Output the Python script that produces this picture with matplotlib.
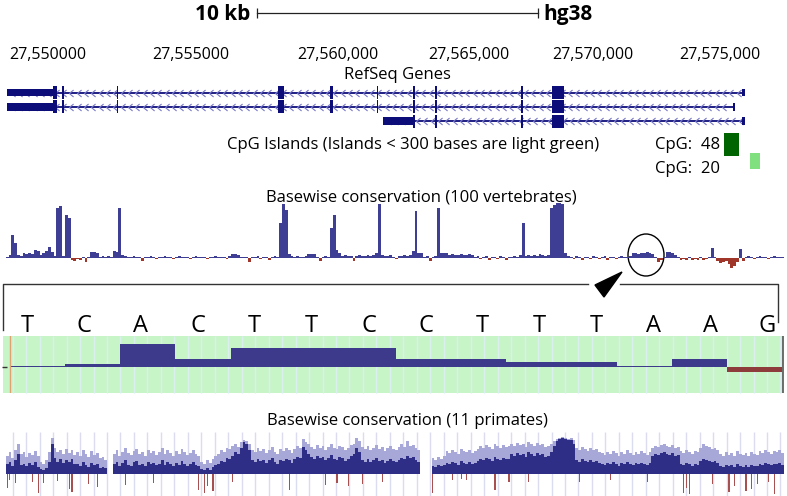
import numpy as np
import matplotlib.pyplot as plt
from matplotlib.patches import Rectangle, Ellipse, Polygon
from matplotlib.path import Path

plt.rcParams['font.family'] = ['Open Sans', 'DejaVu Sans']

W, H = 787, 496
# genomic window shown across the figure width, in kb from 27,550,000
KB_LEFT, KB_RIGHT = -1.702, 26.206

# ---------------------------------------------------------------- data
coord_labels = ["27,550000", "27,555000", "27,560,000", "27,565,000", "27,570,000", "27,575,000"]
coord_pos = [0.0, 5.07, 10.28, 14.93, 19.33, 23.83]  # kb

# RefSeq transcripts (kb)
tx_span = [(-1.45, 24.72), (-1.45, 24.33), (11.88, 24.72)]
tx_utr = [[(-1.45, 0.18), (24.61, 24.72)],
          [(-1.45, 0.18), (24.30, 24.35)],
          [(11.88, 12.95), (24.61, 24.72)]]
tx_cds = [[(0.18, 0.32), (0.50, 0.57), (2.45, 2.50), (8.16, 8.37), (10.00, 10.11), (11.65, 11.70),
           (12.95, 13.02), (13.74, 13.81), (16.79, 16.84), (17.87, 18.30)],
          [(0.18, 0.32), (0.50, 0.57), (2.45, 2.50), (8.16, 8.37), (10.00, 10.11), (11.65, 11.70),
           (12.95, 13.02), (13.74, 13.81), (16.79, 16.84), (17.87, 18.30)],
          [(12.95, 13.02), (13.74, 13.81), (16.79, 16.84), (17.87, 18.30)]]

# CpG islands (kb)
cpg_start = [23.97, 24.89]
cpg_end = [24.50, 25.25]
cpg_count = [48, 20]
cpg_color = ['#006400', '#80E080']

# phyloP 100 vertebrates, 0.1 kb bins starting at -1.5 kb
bin0, bin_w = -1.5, 0.1
vert_score = [
    1, 3, 23, 15, 3, 2, 5, 4, 5, 4, 8, 7, 3, 5, 7, 11, 6, 2, 50, 52,
    2, 43, 40, -2, -3, -1, -2, 1, -4, 1, 6, 6, 5, 1, 2, 1, 2, 1, 7, 6,
    50, 3, 2, 1, 1, 2, 1, 1, -3, 1, 1, 2, 1, -1, 1, 1, 2, 1, 1, -1,
    1, 2, 1, 1, 1, -1, 1, 2, 1, 1, 1, -1, 1, 1, 2, 1, 1, 1, -1, 2,
    4, 4, 3, 1, 1, 1, -4, 1, 1, 2, -1, 1, 1, -2, 1, 2, 1, 35, 54, 48,
    4, 2, 1, 2, 1, 1, 2, 4, 4, 4, 1, -3, 1, 2, 1, 30, 43, 8, 5, 2,
    3, 2, 2, -3, 2, 3, 2, 2, 3, 2, 3, 5, 54, 3, 2, 2, 3, 1, -1, 2,
    2, 3, 2, 3, 7, 47, 5, 5, 1, 2, -3, 1, 2, 50, 5, 5, 5, 3, 4, 3,
    3, 4, 3, 3, 4, 3, 1, 2, -1, 1, 2, -2, 1, 1, -1, 2, 1, -2, 1, 1,
    2, 1, 3, 35, 2, 3, 2, 3, 2, 4, 3, 2, 3, 50, 53, 55, 55, 54, 5, 2,
    1, -1, 2, 1, -2, 1, 1, -1, 2, 1, -1, 1, 2, -2, 1, 1, -1, 1, 2, 1,
    1, 2, 5, 5, 4, 5, 5, 6, 5, 4, 1, -4, -2, 1, 6, 6, 5, 3, 1, -2,
    -1, -2, 1, -2, -1, -2, 1, -2, -1, 1, 10, 1, -3, -5, -4, -3, -6, -10, -8, -4,
    9, -3, 1, 2, 1, -1, 1, 2, 1, 1, -1, 1, 2, 1, 1, 1]

# zoomed 14 bp window
seq = "TCACTTCCTTTAAG"
base_score = [0.5, 1.2, 9.2, 3.2, 7.6, 7.6, 7.6, 3.2, 3.2, 2.1, 2.1, 0.6, 3.2, -2.0]

# phyloP 11 primates, same bins: max (light) and mean (dark)
prim_max = [
    18, 22, 16, 24, 30, 20, 22, 17, 21, 19, 23, 18, 12, 10, 14, 22, 36, 26, 22, 24,
    20, 25, 21, 24, 19, 22, 18, 24, 20, 17, 23, 19, 21, 16, 17, 14, 0, 0,
    20, 24, 18, 22, 26, 21, 19, 23, 25, 20, 22, 18, 24, 21, 23, 19, 22, 26, 20, 24,
    21, 18, 23, 20, 25, 22, 19, 21, 24, 20, 18,
    12, 10, 14, 11, 15, 18,
    20, 24, 22, 26, 25, 28, 30, 27, 32, 34, 33, 30,
    24, 22, 26, 23, 25, 21, 24, 27, 22, 20, 25, 23, 26, 24, 21, 25, 28, 26,
    35, 32, 30,
    27, 25, 29, 26, 28, 24, 27, 30, 26, 25, 28, 27, 24, 26, 29,
    30, 36, 33,
    27, 25, 28, 24, 26, 29, 25, 27, 23, 26, 28, 25, 24, 27,
    30, 27, 33, 28, 29, 26, 24, 0, 0, 0, 0,
    16, 14, 17, 15, 18,
    23, 21, 24, 22, 20, 25, 23, 22, 24, 21, 23, 25,
    28, 26, 29, 27, 25, 30, 28, 26, 29, 27, 28,
    30, 28, 31, 29, 30, 27, 32, 30, 28, 31, 29, 30, 27,
    28, 30, 33,
    35, 36, 37, 36, 35, 36, 34,
    26, 24, 27, 25, 23, 26, 24, 25, 22,
    21, 19, 22, 20, 23, 21, 18, 22, 20, 24, 21, 19, 22, 20, 23, 21, 19, 22,
    26, 28, 27, 29, 30, 28, 27, 29, 26, 27,
    23, 21, 24, 22, 20, 23, 22,
    26, 30, 28, 27, 25, 26, 24,
    20, 18, 22, 19, 21, 18, 23, 20, 19, 21, 18, 22, 20, 19,
    23, 21, 24, 22, 20, 23, 22, 24, 21]
prim_mean = [
    10, 12, 8, 14, 20, 9, 10, 8, 11, 9, 12, 7, 5, 4, 6, 12, 30, 16, 12, 15,
    11, 14, 12, 15, 10, 10, 8, 12, 9, 7, 11, 9, 10, 6, 7, 6, 0, 0,
    10, 12, 8, 11, 14, 9, 8, 12, 13, 9, 10, 8, 12, 10, 11, 9, 10, 14, 9, 12,
    10, 8, 11, 9, 13, 10, 8, 10, 12, 9, 8,
    5, 4, 6, 4, 7, 9,
    10, 13, 12, 16, 15, 18, 22, 20, 26, 32, 30, 24,
    14, 12, 15, 13, 14, 11, 14, 16, 12, 10, 14, 13, 15, 14, 11, 15, 17, 16,
    27, 24, 20,
    17, 15, 18, 16, 17, 14, 16, 19, 15, 14, 17, 16, 13, 15, 18,
    20, 26, 22,
    14, 12, 15, 12, 14, 16, 13, 14, 11, 13, 15, 13, 12, 14,
    16, 15, 18, 16, 17, 14, 12, 0, 0, 0, 0,
    8, 7, 9, 8, 9,
    11, 10, 12, 11, 9, 13, 11, 10, 12, 10, 11, 13,
    15, 14, 16, 15, 13, 17, 15, 14, 16, 15, 15,
    20, 18, 21, 19, 20, 17, 22, 20, 18, 21, 19, 20, 17,
    18, 22, 28,
    33, 35, 36, 35, 34, 34, 30,
    14, 12, 15, 13, 12, 14, 12, 13, 11,
    10, 9, 11, 10, 12, 10, 8, 11, 10, 12, 10, 9, 11, 10, 11, 10, 9, 11,
    18, 20, 19, 21, 22, 20, 19, 21, 18, 19,
    10, 9, 11, 10, 8, 10, 9,
    13, 15, 14, 13, 12, 13, 11,
    8, 7, 9, 8, 9, 7, 10, 8, 7, 9, 7, 9, 8, 8,
    10, 9, 11, 10, 9, 10, 10, 11, 9]
prim_neg_bin = [0, 1, 3, 9, 11, 13, 18, 22, 23, 29, 32, 42, 52, 68, 70, 71, 73, 80, 100, 113,
                117, 121, 126, 133, 151, 158, 161, 163, 173, 178, 185, 203, 214, 227, 240, 241,
                242, 250, 256, 258, 262, 264, 266, 270, 272]
prim_neg_depth = [14, 6, 9, 8, 19, 9, 7, 15, 18, 10, 13, 11, 9, 16, 19, 12, 17, 8, 16, 11,
                  9, 12, 10, 8, 19, 6, 5, 6, 16, 8, 8, 8, 6, 8, 19, 14,
                  20, 10, 18, 12, 17, 15, 10, 8, 20]

assert len(vert_score) == len(prim_max) == len(prim_mean)
assert len(prim_neg_bin) == len(prim_neg_depth)

NAVY = '#0D0D7A'

# ---------------------------------------------------------------- figure
fig = plt.figure(figsize=(W / 100, H / 100), dpi=100)


def px_axes(x0, y0, x1, y1, z=1):
    a = fig.add_axes([x0 / W, 1 - y1 / H, (x1 - x0) / W, (y1 - y0) / H], zorder=z)
    a.set_axis_off()
    a.patch.set_visible(False)
    return a


# canvas in pixel units for labels / annotations
cv = px_axes(0, 0, W, H, z=0)
cv.set_xlim(0, W)
cv.set_ylim(H, 0)

# scale bar
cv.text(250, 20, "10 kb", fontsize=15, fontweight='bold', ha='right', va='baseline')
cv.text(543, 20, "hg38", fontsize=15, fontweight='bold', ha='left', va='baseline')
cv.plot([257, 538], [13, 13], color='#222222', lw=0.9)
cv.vlines([257, 538], 8, 18, color='#222222', lw=0.9)

# ---- genes
ga = px_axes(0, 85.35, W, 128.25)
ga.set_xlim(KB_LEFT, KB_RIGHT)
ga.set_ylim(2.5, -0.5)
for lab, pos in zip(coord_labels, coord_pos):
    ga.text(pos, -2.35, lab, fontsize=11.5, ha='center', va='baseline', clip_on=False)
ga.text(12.4, -0.95, "RefSeq Genes", fontsize=12, ha='center', va='baseline', clip_on=False)

chev = Path([(0.6, 1.0), (-0.6, 0.0), (0.6, -1.0)], [Path.MOVETO, Path.LINETO, Path.LINETO])
for row, (s, e) in enumerate(tx_span):
    ga.plot([s, e], [row, row], color=NAVY, lw=1.3, solid_capstyle='butt', zorder=1)
    marks = np.arange(s + 0.2, e - 0.1, 0.26)
    ga.plot(marks, [row] * len(marks), ls='none', marker=chev, ms=5, mfc='none',
            mec='#7878C8', mew=0.8, zorder=1)
    ga.broken_barh([(a, b - a) for a, b in tx_utr[row]], (row - 0.26, 0.52), color=NAVY, lw=0,
                   zorder=3)
    ga.broken_barh([(a, b - a) for a, b in tx_cds[row]], (row - 0.45, 0.90), color=NAVY, lw=0,
                   zorder=3)

# ---- CpG islands
ca = px_axes(0, 130, W, 176)
ca.set_xlim(KB_LEFT, KB_RIGHT)
ca.set_ylim(176, 130)
cpg_rows = [(133, 23), (153, 16)]
for s, e, c, (y0, h) in zip(cpg_start, cpg_end, cpg_color, cpg_rows):
    ca.broken_barh([(s, e - s)], (y0, h), color=c, lw=0)
cv.text(413, 149, "CpG Islands (Islands < 300 bases are light green)", fontsize=12,
        ha='center', va='baseline')
cv.text(720, 149, f"CpG:  {cpg_count[0]}", fontsize=12, ha='right', va='baseline')
cv.text(720, 173, f"CpG:  {cpg_count[1]}", fontsize=12, ha='right', va='baseline')

# ---- 100 vertebrates
cv.text(421, 201, "Basewise conservation (100 vertebrates)", fontsize=12, ha='center', va='baseline')
va_ = px_axes(0, 198, W, 274)
va_.set_xlim(KB_LEFT, KB_RIGHT)
va_.set_ylim(-16, 60)
vx = bin0 + bin_w * np.arange(len(vert_score))
vs = np.array(vert_score)
va_.bar(vx, vs, width=bin_w, align='edge', lw=0,
        color=np.where(vs >= 0, '#3E3E94', '#A0352A'))

cv.add_patch(Ellipse((646, 255), 36, 42, fill=False, ec='black', lw=1))

# bracket + arrow
cv.plot([3, 3, 588], [330, 284, 284], color='#333333', lw=1)
cv.plot([620, 778, 778], [284, 284, 322], color='#333333', lw=1)
cv.add_patch(Polygon([(595, 285), (604, 297), (622, 272)], closed=True, fc='black', ec='black'))

# ---- zoomed bases
la = px_axes(0, 300, W, 345)
la.set_xlim(-0.474, 13.35)
la.set_ylim(345, 300)
for i, b in enumerate(seq):
    la.text(i, 331.5, b, fontsize=17, ha='center', va='baseline')

cv.add_patch(Rectangle((3, 336), 780, 57, fc='#C8F5C8', ec='none', zorder=1))
guides = np.arange(12.7, 783, 13.47)
cv.vlines(guides, 336, 393, color='#DCEFF0', lw=1, zorder=2)
cv.vlines([783], 336, 393, color='#555555', lw=1.2, zorder=3)
cv.hlines([367], 2, 7, color='#333333', lw=1, zorder=3)

pa = px_axes(3, 336, 783, 393)
pa.set_xlim((3 - 10) / 55.14, (783 - 10) / 55.14)
pa.set_ylim(-10.4, 12.4)
bs = np.array(base_score)
pa.bar(np.arange(len(seq)), bs, width=1, align='edge', lw=0,
       color=np.where(bs >= 0, '#3D3A8C', '#8E3B3B'))
pa.axvline(0, color='#E0A070', lw=1)

# ---- 11 primates
cv.text(407, 425, "Basewise conservation (11 primates)", fontsize=12, ha='center', va='baseline')
cv.vlines(guides, 432, 496, color='#DCDCF0', lw=1, zorder=2)
pr = px_axes(0, 430, W, 496)
pr.set_xlim(KB_LEFT, KB_RIGHT)
pr.set_ylim(-22, 44)
px_ = bin0 + bin_w * np.arange(len(prim_max))
pr.bar(px_, prim_max, width=bin_w, align='edge', lw=0, color='#A8A8D8')
pr.bar(px_, prim_mean, width=bin_w, align='edge', lw=0, color='#2E2E86')
nx = bin0 + bin_w * (np.array(prim_neg_bin) + 0.5)
pr.bar(nx, -np.array(prim_neg_depth), width=0.04, lw=0, color='#A85050')

fig.savefig('out.png', dpi=100)
